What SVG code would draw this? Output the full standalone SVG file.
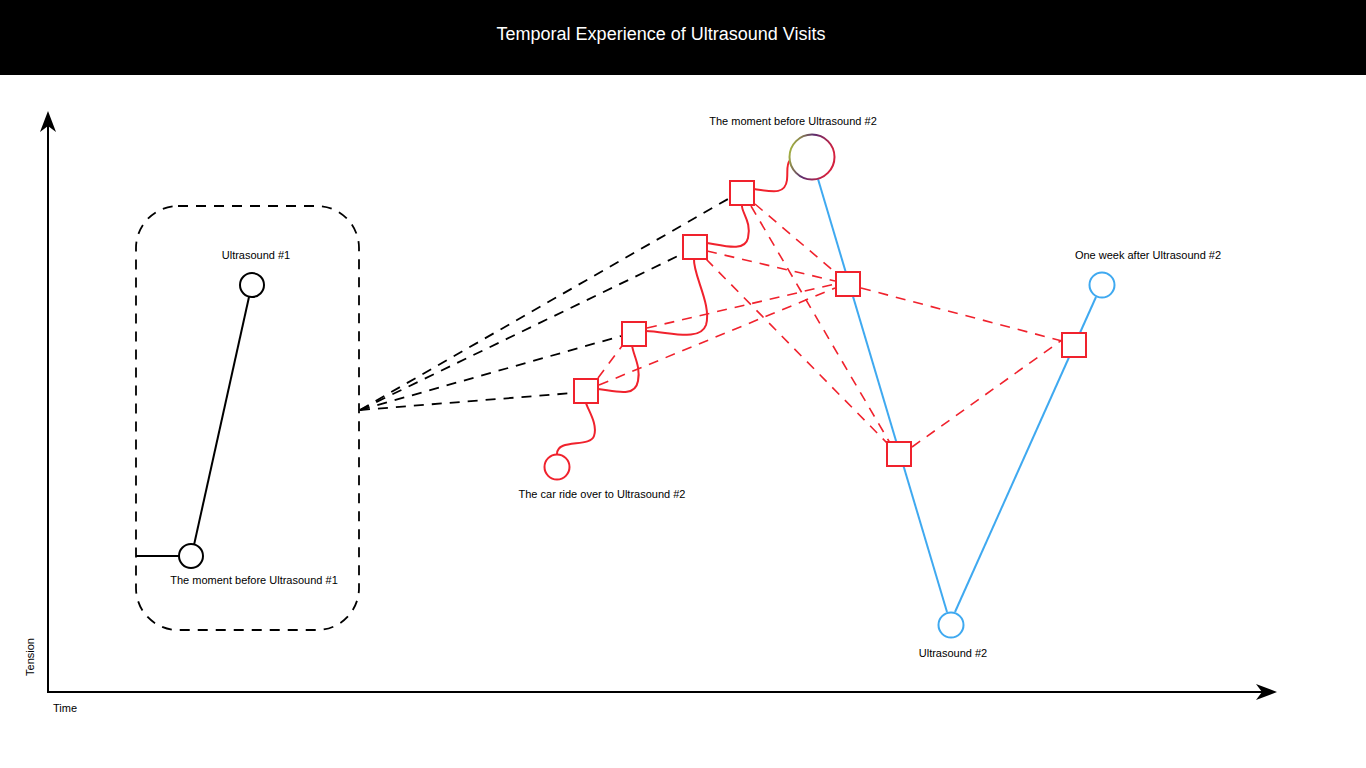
<svg xmlns="http://www.w3.org/2000/svg" width="1366" height="768" viewBox="0 0 1366 768">
<style>
text{font-family:"Liberation Sans",Arial,sans-serif;font-size:11px;fill:#000;text-anchor:middle}
.title{font-size:18px;fill:#fff}
.blk{fill:none;stroke:#000;stroke-width:2}
.bd{fill:none;stroke:#000;stroke-width:1.8;stroke-dasharray:10 8}
.rd{fill:none;stroke:#f0222d;stroke-width:1.6;stroke-dasharray:10 8}
.rs{fill:none;stroke:#f0222d;stroke-width:2}
.sq{fill:#fff;stroke:#f0222d;stroke-width:2}
.bl{fill:none;stroke:#3fa9f0;stroke-width:2}
.blc{fill:#fff;stroke:#3fa9f0;stroke-width:2}
.rc{fill:#fff;stroke:#f0222d;stroke-width:2}
.kc{fill:#fff;stroke:#000;stroke-width:2}
</style>
<defs>
<linearGradient id="g" x1="0" y1="0" x2="1" y2="0.3">
<stop offset="0" stop-color="#b5d334"/>
<stop offset="0.5" stop-color="#5b2d6e"/>
<stop offset="1" stop-color="#d4213f"/>
</linearGradient>
</defs>
<rect x="0" y="0" width="1366" height="768" fill="#fff"/>
<rect x="0" y="0" width="1366" height="75" fill="#000"/>
<text class="title" x="661" y="40">Temporal Experience of Ultrasound Visits</text>

<g id="axes">
<line class="blk" x1="48" y1="122" x2="48" y2="692"/>
<line class="blk" x1="47" y1="692" x2="1266" y2="692"/>
<path d="M48,111 L56,132 L48,126 L40,132 Z" fill="#000"/>
<path d="M1277,692 L1256,684 L1262,692 L1256,700 Z" fill="#000"/>
<text x="34" y="657" transform="rotate(-90 34 657)">Tension</text>
<text x="65" y="712">Time</text>
</g>

<g id="group-box">
<rect x="136" y="206" width="223" height="424" rx="42" ry="42" class="bd" stroke-width="2"/>
</g>

<g id="connectors">
<line class="blk" x1="136" y1="556" x2="179" y2="556"/>
<line class="blk" x1="194" y1="545" x2="249" y2="297"/>
<line class="bd" x1="360" y1="410" x2="728" y2="199"/>
<line class="bd" x1="360" y1="410" x2="682" y2="254"/>
<line class="bd" x1="360" y1="410" x2="621" y2="336"/>
<line class="bd" x1="360" y1="410" x2="573" y2="393"/>
<line class="bl" x1="818" y1="179" x2="947" y2="612"/>
<line class="bl" x1="955" y1="612" x2="1096" y2="297"/>
<line class="rd" x1="598" y1="378" x2="622" y2="346"/>
<line class="rd" x1="599" y1="385" x2="835" y2="288"/>
<line class="rd" x1="647" y1="328" x2="835" y2="284"/>
<line class="rd" x1="707" y1="251" x2="835" y2="281"/>
<line class="rd" x1="755" y1="204" x2="836" y2="273"/>
<line class="rd" x1="751" y1="206" x2="890" y2="443"/>
<line class="rd" x1="706" y1="259" x2="888" y2="444"/>
<line class="rd" x1="861" y1="288" x2="1062" y2="341"/>
<line class="rd" x1="912" y1="447" x2="1062" y2="340"/>
<path class="rs" d="M557,454 C557,438 590,448 594,436 C598,424 588,410 586,403"/>
<path class="rs" d="M598,389 C615,391 635,398 638,381 C641,366 633,355 632,345"/>
<path class="rs" d="M646,331 C670,332 700,342 706,325 C712,305 693,275 694,259"/>
<path class="rs" d="M707,243 C725,246 745,252 748,238 C752,222 741,212 742,205"/>
<path class="rs" d="M754,189 C770,191 785,196 787,180 C788,170 786,165 790,160"/>
</g>

<g id="ultrasound1"><circle class="kc" cx="252" cy="285" r="12"/><text x="256" y="259">Ultrasound #1</text></g>
<g id="moment-before-1"><circle class="kc" cx="191" cy="556" r="12"/><text x="254" y="584">The moment before Ultrasound #1</text></g>
<g id="car-ride"><circle class="rc" cx="557" cy="467" r="12.5"/><text x="602" y="498">The car ride over to Ultrasound #2</text></g>
<g id="s4"><rect class="sq" x="574" y="379" width="24" height="24"/></g>
<g id="s3"><rect class="sq" x="622" y="322" width="24" height="24"/></g>
<g id="s2"><rect class="sq" x="683" y="235" width="24" height="24"/></g>
<g id="s1"><rect class="sq" x="730" y="181" width="24" height="24"/></g>
<g id="s5"><rect class="sq" x="836" y="272" width="24" height="24"/></g>
<g id="s6"><rect class="sq" x="1062" y="333" width="24" height="24"/></g>
<g id="s7"><rect class="sq" x="887" y="442" width="24" height="24"/></g>
<g id="moment-before-2"><circle cx="812" cy="157" r="22.5" fill="#fff" stroke="url(#g)" stroke-width="2"/><text x="793" y="125">The moment before Ultrasound #2</text></g>
<g id="one-week-after"><circle class="blc" cx="1102" cy="285" r="12.5"/><text x="1148" y="259">One week after Ultrasound #2</text></g>
<g id="ultrasound2"><circle class="blc" cx="951" cy="625" r="12.5"/><text x="953" y="657">Ultrasound #2</text></g>
</svg>
